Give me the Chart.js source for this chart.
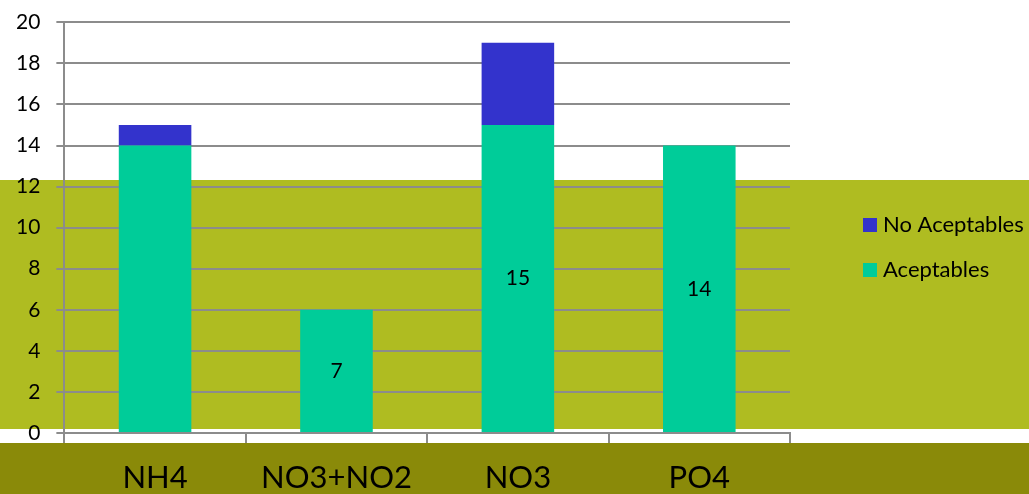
<!DOCTYPE html>
<html>
<head>
<meta charset="utf-8">
<script src="https://cdn.jsdelivr.net/npm/chart.js@4"></script>
<style>
  html, body { margin: 0; padding: 0; background: #fff; }
  #wrap { width: 1029px; height: 494px; position: relative; }
</style>
</head>
<body>
<div id="wrap"><canvas id="chart"></canvas></div>
<script>
// datos del grafico
const categorias = ["NH4", "NO3+NO2", "NO3", "PO4"];
const aceptables = [14, 6, 15, 14];
const noAceptables = [1, 0, 4, 0];
const etiquetasAceptables = ["", "7", "15", "14"];
const yTicks = [0, 2, 4, 6, 8, 10, 12, 14, 16, 18, 20];

const FONT = "Lato, 'Open Sans', sans-serif";

// fondo en franjas
const fondo = {
  id: "fondo",
  beforeDraw(chart) {
    const ctx = chart.ctx;
    ctx.save();
    ctx.fillStyle = "#ffffff";
    ctx.fillRect(0, 0, chart.width, chart.height);
    ctx.fillStyle = "#afbc21";
    ctx.fillRect(0, 180, chart.width, 249);
    ctx.fillStyle = "#8a8a09";
    ctx.fillRect(0, 443, chart.width, chart.height - 443);
    ctx.restore();
  },
};

// etiquetas dentro de las barras
const etiquetas = {
  id: "etiquetas",
  afterDatasetsDraw(chart) {
    const ctx = chart.ctx;
    const meta = chart.getDatasetMeta(0);
    ctx.save();
    ctx.font = "21px " + FONT;
    ctx.fillStyle = "#000";
    ctx.textAlign = "center";
    ctx.textBaseline = "middle";
    meta.data.forEach((bar, i) => {
      const t = etiquetasAceptables[i];
      if (!t) return;
      ctx.fillText(t, bar.x, (bar.y + bar.base) / 2);
    });
    ctx.restore();
  },
};

// leyenda a la derecha (No Aceptables arriba)
const leyenda = {
  id: "leyenda",
  afterDraw(chart) {
    const ctx = chart.ctx;
    const items = [chart.data.datasets[1], chart.data.datasets[0]];
    ctx.save();
    ctx.font = "22px " + FONT;
    ctx.textBaseline = "middle";
    items.forEach((ds, i) => {
      const y = 225 + i * 45;
      ctx.fillStyle = ds.backgroundColor;
      ctx.fillRect(863, y - 7, 14, 14);
      ctx.fillStyle = "#000";
      ctx.fillText(ds.label, 883, y);
    });
    ctx.restore();
  },
};

new Chart(document.getElementById("chart"), {
  type: "bar",
  data: {
    labels: categorias,
    datasets: [
      { label: "Aceptables", data: aceptables, backgroundColor: "#00cc99", stack: "s" },
      { label: "No Aceptables", data: noAceptables, backgroundColor: "#3333cc", stack: "s" },
    ],
  },
  options: {
    responsive: true,
    maintainAspectRatio: false,
    animation: false,
    layout: { padding: { top: 2, right: 239, left: 0, bottom: 0 } },
    datasets: { bar: { categoryPercentage: 1, barPercentage: 0.4 } },
    plugins: { legend: { display: false }, tooltip: { enabled: false } },
    scales: {
      x: {
        stacked: true,
        afterFit(scale) { scale.height = 61; },
        grid: { display: true, drawOnChartArea: false, offset: true, color: "#8c8c8c", lineWidth: 2, tickLength: 10 },
        border: { color: "#8c8c8c", width: 2 },
        ticks: { color: "#000", font: { size: 31, family: FONT }, padding: 16 },
      },
      y: {
        stacked: true,
        min: 0,
        max: 20,
        afterBuildTicks(axis) { axis.ticks = yTicks.map((v) => ({ value: v })); },
        grid: { color: "#8c8c8c", lineWidth: 2, tickLength: 8 },
        border: { color: "#8c8c8c", width: 2 },
        ticks: { color: "#000", font: { size: 21, family: FONT, lineHeight: 0.6 }, padding: 16 },
      },
    },
  },
  plugins: [fondo, etiquetas, leyenda],
});
</script>
</body>
</html>
